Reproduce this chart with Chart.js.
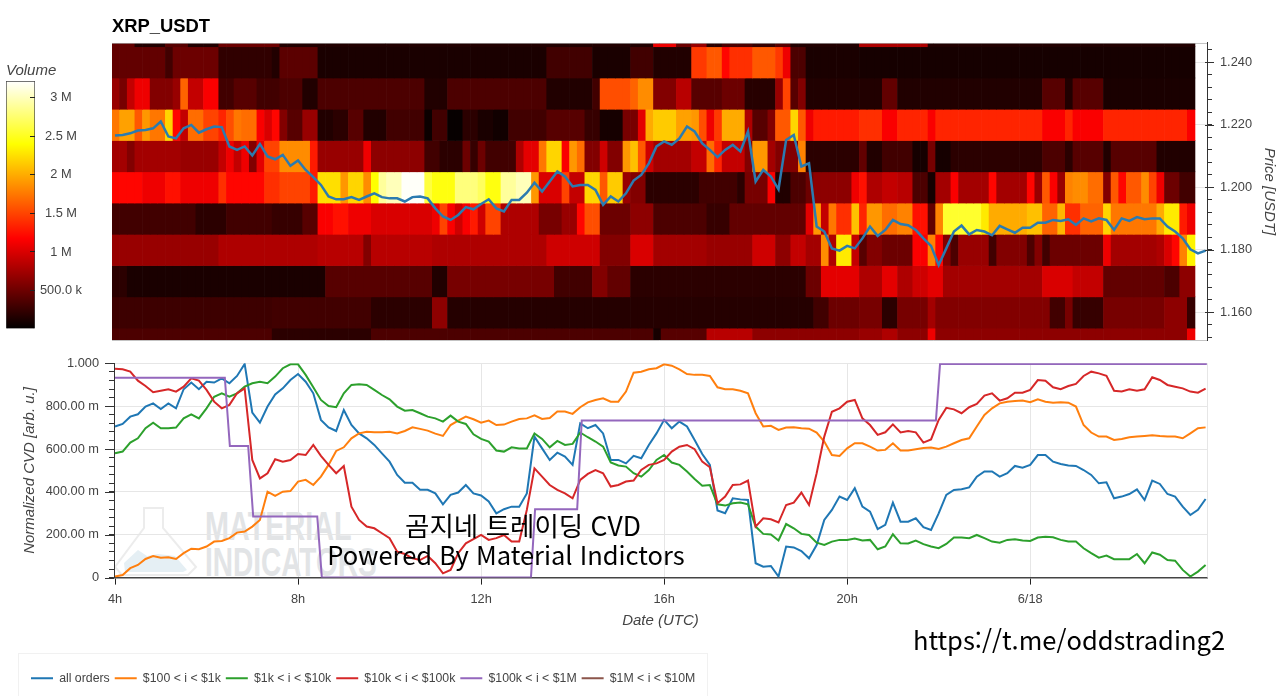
<!DOCTYPE html>
<html lang="ko">
<head>
<meta charset="utf-8">
<title>XRP_USDT</title>
<script src="https://cdn.jsdelivr.net/npm/chart.js@4"></script>
<style>
  html, body { margin: 0; padding: 0; width: 1280px; height: 696px; overflow: hidden; background: #fff; }
  canvas { position: absolute; }
  .legend-box { position: absolute; left: 18px; top: 653px; width: 688px; height: 70px; border: 1px solid #f1f1f1; }
  .mark { position: absolute; left: 205px; font: bold 40px "Liberation Sans", sans-serif; color: #e2e4e6; white-space: nowrap; transform-origin: left center; }
  .note { position: absolute; font-family: "Noto Sans CJK KR", "Noto Sans", sans-serif; color: #000; white-space: nowrap; transform: translateX(-50%); line-height: 1; }
</style>
</head>
<body>
<svg style="position:absolute;left:0;top:0" width="400" height="696">
  <path d="M144 508 H163 V528 L196 567 L188 575 H122 L115 567 L144 528 Z" fill="none" stroke="#ececec" stroke-width="2"/>
  <path d="M124 563 L138 550 L147 556 L158 554 L175 556 L187 570 L183 572 H125 Z" fill="#e5eff4"/>
</svg>
<div class="mark" style="top:504px;transform:scaleX(.72)">MATERIAL</div>
<div class="mark" style="top:540px;transform:scaleX(.7)">INDICATORS</div>
<div class="legend-box"></div>

<canvas id="heatChart" width="1280" height="345" style="left:0;top:0"></canvas>
<canvas id="volumeBar" width="100" height="280" style="left:0;top:55px"></canvas>
<canvas id="cvdChart" width="1280" height="346" style="left:0;top:350px"></canvas>

<div class="note" style="left:523px;top:512px;font-size:26.5px">곰지네 트레이딩 CVD</div>
<div class="note" style="left:506px;top:541px;font-size:25.5px">Powered By Material Indictors</div>
<div class="note" style="left:1069px;top:626px;font-size:25.5px">https://t.me/oddstrading2</div>

<script>
// price levels of the heatmap rows, top to bottom
const priceLevels = [1.25, 1.24, 1.23, 1.22, 1.21, 1.20, 1.19, 1.18, 1.17, 1.16, 1.15];

// volume per row in millions, as [last 10 minute bin, volume] runs
const rowA = [[3,.45],[7,.15],[10,.4],[14,.15],[22,.5],[71,.15],[74,1.1],[76,.5],[78,.7],[80,.2],[84,.35],[87,.25],[89,.4],[98,.15],[107,.8],[142,.15]];
const rowB = [[7,.45],[8,.3],[14,.5],[21,.22],[22,.15],[27,.42],[57,.12],[63,.3],[68,.12],[71,.3],[76,.15],[78,1.45],[80,1.6],[81,1.2],[84,1.4],[87,1.6],[88,1.45],[89,1.1],[91,.35],[98,.12],[142,.1]];
const rowC = [[1,.7],[2,.55],[3,.9],[5,1.1],[8,.6],[9,.7],[10,1.65],[12,.9],[14,1.15],[16,.3],[19,.4],[22,.3],[25,.35],[27,.15],[41,.35],[44,.15],[57,.35],[63,.15],[64,.3],[68,1.55],[69,1.65],[71,1.85],[74,.6],[76,.85],[80,.4],[83,.5],[87,.18],[88,.7],[89,1.5],[90,.4],[91,.6],[101,.15],[103,.45],[122,.15],[125,.4],[126,.15],[130,.4],[142,.12]];
const rowD = [[1,1.75],[3,1.95],[4,1.6],[5,1.9],[7,1.75],[8,2.2],[9,1.2],[10,.9],[12,1.7],[14,1.5],[15,1.35],[16,1.55],[17,1.75],[19,1.7],[20,1.15],[21,1.0],[22,1.2],[23,.6],[25,.4],[27,.7],[29,.15],[31,.2],[33,.4],[36,.15],[41,.3],[42,.05],[44,.3],[46,.03],[48,.2],[50,.12],[52,.08],[57,.3],[62,.4],[64,.25],[67,.1],[69,.55],[70,1.05],[71,2.0],[74,2.15],[76,1.95],[77,1.9],[78,1.55],[79,1.1],[80,1.45],[83,2.0],[84,.8],[86,.4],[87,.6],[89,1.6],[90,2.2],[91,1.6],[92,1.1],[98,1.3],[101,1.4],[103,1.15],[107,1.35],[108,1.15],[122,1.35],[125,1.15],[126,1.35],[130,1.15],[141,1.35],[142,1.15]];
const rowE = [[2,.75],[3,.6],[9,.75],[14,.7],[15,.9],[16,1.1],[17,.9],[18,1.1],[19,.6],[20,1.05],[22,1.5],[26,1.85],[27,1.3],[33,.7],[34,1.1],[41,.65],[43,.3],[46,.2],[47,.5],[48,.25],[49,.5],[53,.3],[54,.8],[56,1.05],[57,1.75],[59,2.2],[60,1.15],[61,1.9],[62,1.7],[64,.6],[65,.95],[67,.6],[68,1.9],[69,2.1],[70,1.6],[71,.95],[76,.75],[78,.9],[79,1.7],[80,1.35],[83,.9],[84,.6],[86,1.9],[87,.75],[90,.6],[91,1.8],[98,.2],[99,.45],[101,.15],[105,.3],[107,.1],[108,.55],[110,.1],[122,.2],[125,.35],[126,.2],[130,.4],[131,.15],[137,.4],[142,.15]];
const rowF = [[4,1.2],[7,1.1],[9,1.25],[14,1.1],[15,1.4],[20,1.2],[22,1.4],[26,1.5],[27,1.3],[30,2.25],[31,1.9],[33,2.2],[34,1.85],[35,2.4],[36,2.9],[38,3.0],[41,3.2],[42,2.6],[45,2.45],[48,2.8],[49,2.7],[51,2.45],[53,2.9],[55,3.0],[56,1.9],[59,1.0],[60,1.5],[62,.9],[64,2.2],[65,1.6],[67,2.15],[68,.7],[70,.6],[77,.2],[82,.3],[83,.2],[86,.55],[87,1.15],[89,.15],[91,.35],[92,.5],[97,.65],[98,1.1],[99,1.25],[101,.8],[103,.9],[105,.85],[107,.35],[108,.1],[110,.75],[111,1.15],[115,.75],[116,1.2],[120,.75],[121,1.2],[122,.7],[123,1.6],[124,1.15],[125,.7],[126,1.8],[128,1.85],[130,1.7],[131,.6],[132,1.6],[133,1.2],[135,1.6],[136,1.85],[137,1.5],[138,1.1],[140,.5],[142,.3]];
const rowG = [[11,.3],[15,.2],[21,.3],[25,.25],[27,.4],[29,1.15],[31,1.25],[34,1.1],[42,1.0],[43,1.1],[44,1.5],[45,1.15],[46,.95],[47,1.15],[48,1.3],[49,.95],[51,1.5],[56,.8],[59,.55],[61,.7],[62,1.2],[64,1.55],[68,.5],[71,.65],[78,.35],[81,.25],[91,.45],[92,1.05],[93,1.9],[94,.9],[95,1.75],[97,1.4],[98,2.1],[99,1.35],[101,1.9],[103,1.7],[105,1.8],[107,1.25],[108,.45],[109,1.8],[114,2.55],[115,2.3],[120,2.0],[122,2.1],[124,1.65],[125,2.05],[127,1.4],[130,1.65],[131,2.2],[137,1.75],[138,2.0],[140,2.3],[141,1.3],[142,1.1]];
const rowH = [[14,.7],[27,.8],[33,.85],[34,.6],[42,.85],[57,.8],[64,.95],[68,.6],[71,1.0],[78,.75],[84,.7],[87,.95],[89,.65],[91,.9],[93,.75],[94,1.85],[95,.8],[97,2.3],[98,.9],[99,.4],[101,.6],[105,.5],[107,1.15],[108,1.8],[109,1.2],[110,.6],[111,.35],[115,.7],[116,.3],[120,.6],[121,.35],[122,.6],[123,.3],[130,.5],[131,1.1],[137,.75],[138,.8],[139,1.0],[140,1.2],[141,1.8],[142,2.35]];
const rowI = [[2,.2],[28,.12],[42,.4],[44,.15],[58,.55],[63,.3],[65,.6],[68,.45],[91,.2],[93,.5],[98,1.05],[101,.8],[103,1.05],[105,.8],[107,.95],[109,1.05],[122,.75],[126,1.0],[130,.9],[138,.45],[140,.35],[142,.65]];
const rowJ = [[21,.28],[34,.3],[42,.2],[44,.65],[92,.17],[94,.3],[98,.5],[101,.55],[103,.2],[107,.55],[108,.75],[123,.6],[125,.3],[126,.55],[130,.25],[138,.55],[141,.65],[142,.25]];
const rowK = [[21,.35],[34,.2],[71,.35],[72,.1],[78,.4],[84,.85],[98,.65],[101,.7],[103,.8],[107,.65],[108,1.1],[141,.65],[142,1.1]];
const volumeRows = [rowA, rowB, rowC, rowD, rowE, rowF, rowG, rowH, rowI, rowJ, rowK];

// last traded price, one value every 10 minutes
const priceSeries = [
  1.2166,1.2168,1.2173,1.2182,1.2184,1.2189,1.2211,1.2163,1.2157,1.2189,1.22,1.2175,1.2186,1.2195,1.2193,1.2131,1.212,1.2131,1.2102,1.2139,1.2099,1.209,1.2104,1.2069,1.2086,1.2056,1.2033,1.2008,1.1971,1.1962,1.1962,1.1969,1.196,1.1971,1.1981,1.1969,1.1965,1.1965,1.1955,1.1969,1.1971,1.1965,
  1.1933,1.1907,1.1896,1.1912,1.1937,1.193,1.1947,1.1962,1.1933,1.1923,1.196,1.196,1.1983,1.2015,1.1987,1.2019,1.2051,1.2035,1.2003,1.2008,1.2008,1.1992,1.1944,1.1971,1.1955,1.1981,1.2022,1.204,1.2077,1.2131,1.2147,1.2136,1.2157,1.2195,1.2179,1.2141,1.212,1.2097,1.212,1.2136,1.2115,1.2179,1.2019,1.2056,1.2035,1.1994,1.2152,1.2168,1.2067,1.2077,1.1875,1.1859,1.1805,1.1798,1.1813,1.1805,
  1.1837,1.1875,1.1845,1.1864,1.1896,1.1883,1.1879,1.1864,1.1837,1.1813,1.1752,1.1805,1.1859,1.1878,1.185,1.1864,1.1859,1.1847,1.1877,1.1866,1.1855,1.1871,1.1871,1.1887,1.1887,1.1896,1.1893,1.1898,1.188,1.1901,1.1891,1.1901,1.1896,1.1864,1.1901,1.1893,1.1905,1.1898,1.1901,1.1901,1.1875,1.1859,1.1837,1.1802,1.1789,1.1798
];

// normalized CVD per order size, one value every 10 minutes
const allOrders = [
  .705,.717,.751,.762,.798,.813,.787,.813,.79,.879,.91,.879,.914,.91,.93,.907,.941,.997,.77,.723,.798,.855,.883,.922,.95,.914,.86,.736,.701,.684,.782,.712,.673,.65,.619,.58,.541,.479,.443,.443,.41,.41,
  .393,.342,.386,.397,.432,.393,.383,.355,.30,.319,.331,.331,.393,.658,.603,.549,.583,.565,.526,.72,.697,.712,.673,.549,.549,.533,.568,.557,.619,.673,.736,.697,.728,.705,.642,.577,.526,.313,.30,.37,.365,.362,.067,.051,.054,.005,.145,.141,.124,.09,.152,.269,.316,.378,.362,.417,
  .331,.308,.226,.246,.35,.261,.261,.277,.235,.222,.30,.386,.409,.412,.421,.471,.495,.495,.471,.487,.521,.513,.526,.572,.572,.541,.53,.523,.521,.502,.479,.44,.445,.37,.378,.39,.412,.362,.453,.437,.39,.378,.331,.292,.316,.367
];
const orders100to1k = [
  .005,.012,.044,.059,.087,.101,.093,.095,.087,.114,.135,.132,.145,.168,.171,.184,.21,.215,.238,.269,.401,.381,.401,.404,.448,.456,.432,.471,.526,.591,.608,.65,.673,.681,.678,.678,.681,.673,.684,.701,.694,.686,
  .672,.661,.712,.733,.751,.739,.723,.733,.712,.714,.728,.74,.743,.757,.74,.745,.775,.775,.764,.795,.818,.829,.837,.821,.821,.868,.956,.961,.972,.977,.995,.989,.972,.95,.946,.946,.941,.888,.879,.879,.872,.86,.767,.705,.708,.689,.70,.701,.697,.695,.677,.635,.572,.568,.603,.627,
  .627,.611,.593,.596,.627,.593,.593,.599,.605,.607,.60,.611,.627,.642,.65,.705,.759,.79,.813,.821,.824,.826,.818,.832,.821,.816,.818,.816,.798,.712,.677,.658,.658,.642,.647,.655,.658,.661,.664,.661,.659,.658,.65,.673,.697,.701
];
const orders1kto10k = [
  .58,.588,.63,.65,.697,.723,.697,.697,.70,.743,.762,.743,.79,.844,.86,.844,.86,.891,.907,.914,.907,.938,.977,.995,.995,.946,.888,.829,.801,.795,.86,.899,.902,.899,.876,.852,.832,.798,.779,.782,.767,.751,
  .743,.728,.756,.728,.717,.669,.647,.635,.593,.588,.608,.603,.603,.673,.647,.608,.638,.619,.624,.677,.655,.635,.611,.537,.523,.518,.487,.471,.502,.549,.572,.537,.526,.495,.46,.429,.432,.342,.336,.347,.35,.342,.238,.204,.201,.173,.25,.23,.204,.199,.163,.152,.168,.176,.176,.182,
  .173,.176,.132,.145,.202,.16,.159,.173,.156,.145,.137,.157,.187,.187,.184,.199,.184,.168,.163,.176,.179,.173,.171,.187,.191,.188,.176,.168,.168,.137,.114,.093,.103,.086,.086,.086,.11,.067,.117,.107,.082,.079,.036,.005,.028,.059
];
const orders10kto100k = [
  .974,.972,.961,.919,.894,.865,.872,.879,.868,.891,.93,.919,.876,.821,.79,.806,.86,.883,.549,.463,.487,.552,.541,.549,.577,.572,.619,.568,.526,.487,.521,.331,.269,.238,.23,.207,.184,.121,.11,.09,.082,.101,
  .067,.02,.036,.114,.16,.179,.199,.176,.184,.199,.168,.168,.316,.51,.471,.432,.409,.393,.37,.456,.484,.502,.487,.425,.432,.448,.453,.502,.526,.533,.549,.588,.611,.619,.599,.541,.515,.347,.378,.432,.435,.453,.238,.277,.272,.257,.339,.35,.397,.339,.487,.658,.774,.79,.821,.829,
  .743,.712,.666,.678,.715,.677,.684,.678,.63,.645,.736,.792,.785,.767,.795,.81,.849,.86,.826,.837,.863,.863,.876,.922,.919,.888,.879,.894,.904,.941,.961,.953,.942,.872,.869,.879,.872,.879,.935,.922,.899,.891,.883,.868,.863,.882
];

// the $100k to $1M curve only changes in steps
const stepHours = [4, 6.40, 6.51, 6.91, 7.02, 8.42, 8.52, 13.09, 13.18, 14.10, 14.20, 21.94, 22.03, 27.86];
const stepValues = [.933, .933, .614, .614, .285, .285, 0, 0, .319, .319, .733, .733, .997, .997];

const seriesNames = ["all orders", "$100 < i < $1k", "$1k < i < $10k", "$10k < i < $100k", "$100k < i < $1M", "$1M < i < $10M"];
const seriesColors = ["#1f77b4", "#ff7f0e", "#2ca02c", "#d62728", "#9467bd", "#8c564b"];

const hourTicks = [4, 8, 12, 16, 20, 24];
const hourLabels = ["4h", "8h", "12h", "16h", "20h", "6/18"];
const volumeMax = 3.22;

const axisFont = { family: "Liberation Sans", size: 12.8 };
const legendFont = { family: "Liberation Sans", size: 12.3 };
const axisTitleFont = { family: "Liberation Sans", size: 15, style: "italic", weight: "normal" };
const textColor = "#444";
const gridColor = "#e6e6e6";

// black -> red -> yellow -> white
const hotStops = [
  [0, [0, 0, 0]],
  [0.365, [255, 0, 0]],
  [0.746, [255, 255, 0]],
  [1, [255, 255, 255]],
];

function hotColor(volume) {
  const t = Math.min(volume / volumeMax, 1);
  for (let i = 1; i < hotStops.length; i++) {
    const [t0, c0] = hotStops[i - 1];
    const [t1, c1] = hotStops[i];
    if (t <= t1) {
      const k = (t - t0) / (t1 - t0);
      return `rgb(${c0.map((c, j) => Math.round(c + (c1[j] - c) * k)).join(",")})`;
    }
  }
  return "#fff";
}

// turn [last bin, volume] runs into one volume per bin
function expandRuns(runs) {
  const out = [];
  let bin = 0;
  runs.forEach(([last, volume]) => {
    for (; bin < last; bin++) out.push(volume);
  });
  return out;
}

function isStep(value, step) {
  const q = value / step;
  return Math.abs(q - Math.round(q)) < 1e-6;
}

// fixed axis size, and no extra room for the first and last tick label
function fixAxis(scale, size) {
  if (scale.isHorizontal()) scale.height = size;
  else scale.width = size;
  scale.paddingTop = 0;
  scale.paddingBottom = 0;
  scale.paddingLeft = 0;
  scale.paddingRight = 0;
}

// tick marks on a y axis get longer where isMajor says so, frame lines are optional
function axisExtras(id, isMajor, inner, outer, frame) {
  return {
    id: id,
    afterDatasetsDraw(chart) {
      const { ctx, chartArea, scales } = chart;
      const scale = scales.y;
      const x = scale.position === "right" ? chartArea.right : chartArea.left;
      const dir = scale.position === "right" ? 1 : -1;
      ctx.save();
      ctx.lineWidth = 1;
      if (frame) frame(ctx, chartArea);
      ctx.strokeStyle = "#333";
      scale.ticks.forEach((tick) => {
        if (!isMajor(tick.value)) return;
        const y = Math.round(scale.getPixelForValue(tick.value)) + 0.5;
        ctx.beginPath();
        ctx.moveTo(x - dir * inner, y);
        ctx.lineTo(x + dir * outer, y);
        ctx.stroke();
      });
      ctx.restore();
    },
  };
}

function drawHeatChart() {
  const xMin = 3.9344;
  const xMax = 27.864;
  const binHours = [];
  for (let n = 0; n < 142; n++) binHours.push(xMin + (n + 0.5) / 6);

  const rowSets = volumeRows.map((runs, r) => ({
    type: "bar",
    grouped: false,
    order: 2,
    data: expandRuns(runs).map((volume, n) => ({
      x: binHours[n],
      y: [priceLevels[r] - 0.005, priceLevels[r] + 0.005],
    })),
    backgroundColor: expandRuns(runs).map(hotColor),
    borderWidth: 0,
    barPercentage: 1,
    categoryPercentage: 1,
  }));

  const priceSet = {
    type: "line",
    order: 1,
    data: priceSeries.map((price, i) => ({ x: 4 + i / 6, y: price })),
    borderColor: "#2b7bb0",
    borderWidth: 2.5,
    pointRadius: 0,
    tension: 0,
  };

  const isMajor = (v) => isStep(v, 0.02);

  return new Chart(document.getElementById("heatChart"), {
    type: "bar",
    data: { datasets: [...rowSets, priceSet] },
    options: {
      responsive: false,
      animation: false,
      events: [],
      layout: { padding: { left: 112, bottom: 5 } },
      plugins: {
        legend: { display: false },
        tooltip: { enabled: false },
        title: {
          display: true,
          text: "XRP_USDT",
          align: "start",
          color: "#000",
          font: { family: "Liberation Sans", size: 18.4, weight: "bold" },
          padding: { top: 16, bottom: 4.9 },
        },
      },
      scales: {
        x: {
          type: "linear",
          display: false,
          offset: false,
          min: xMin,
          max: xMax,
          grid: { offset: false },
          ticks: { stepSize: 4, includeBounds: false },
        },
        y: {
          position: "right",
          min: 1.1512,
          max: 1.2462,
          afterFit(scale) { fixAxis(scale, 73); },
          border: { display: true, color: "#333", width: 1 },
          grid: {
            color: (c) => (isMajor(c.tick.value) ? gridColor : "transparent"),
            tickColor: "#333",
            tickLength: 5,
          },
          ticks: {
            stepSize: 0.004,
            autoSkip: false,
            includeBounds: false,
            padding: 8,
            color: textColor,
            font: axisFont,
            callback: (v) => (isMajor(v) ? v.toFixed(3) : ""),
          },
          title: {
            display: true,
            text: "Price [USDT]",
            color: textColor,
            font: axisTitleFont,
            padding: { top: 2 },
          },
        },
      },
    },
    plugins: [axisExtras("heatTicks", isMajor, 2, 7, (ctx, area) => {
      ctx.strokeStyle = "rgba(170,170,170,0.7)";
      ctx.beginPath();
      ctx.moveTo(area.left, area.top + 0.5);
      ctx.lineTo(area.right, area.top + 0.5);
      ctx.moveTo(area.left, area.bottom + 0.5);
      ctx.lineTo(area.right, area.bottom + 0.5);
      ctx.stroke();
    })],
  });
}

function drawVolumeBar() {
  const fill = (c) => {
    const { ctx, chartArea, scales } = c.chart;
    if (!chartArea) return "#000";
    const gradient = ctx.createLinearGradient(0, scales.y.getPixelForValue(0), 0, scales.y.getPixelForValue(volumeMax));
    hotStops.forEach(([t, rgb]) => gradient.addColorStop(t, `rgb(${rgb.join(",")})`));
    return gradient;
  };

  return new Chart(document.getElementById("volumeBar"), {
    type: "bar",
    data: {
      labels: ["Volume"],
      datasets: [{
        data: [[0, volumeMax]],
        backgroundColor: fill,
        borderColor: "#444",
        borderWidth: 1,
        barPercentage: 1,
        categoryPercentage: 1,
      }],
    },
    options: {
      responsive: false,
      animation: false,
      events: [],
      layout: { padding: { left: 6, bottom: 6 } },
      plugins: {
        legend: { display: false },
        tooltip: { enabled: false },
        title: {
          display: true,
          text: "Volume",
          align: "start",
          color: textColor,
          font: axisTitleFont,
          padding: { top: 7, bottom: 1 },
        },
      },
      scales: {
        x: { display: false },
        y: {
          position: "right",
          min: 0,
          max: volumeMax,
          afterFit(scale) { fixAxis(scale, 65); },
          border: { display: false },
          grid: {
            drawOnChartArea: false,
            tickColor: (c) => (c.tick.value === 0 ? "transparent" : "#222"),
            tickLength: -5,
            z: 1,
          },
          ticks: {
            stepSize: 0.5,
            includeBounds: false,
            padding: 10,
            crossAlign: "center",
            color: textColor,
            font: axisFont,
            callback: (v) => (v === 0 ? "" : v === 0.5 ? "500.0 k" : `${v} M`),
          },
        },
      },
    },
  });
}

function drawCvdChart() {
  const hours = allOrders.map((_, i) => 4 + i / 6);
  const toPoints = (values) => values.map((v, i) => ({ x: hours[i], y: v }));
  const curves = [
    toPoints(allOrders),
    toPoints(orders100to1k),
    toPoints(orders1kto10k),
    toPoints(orders10kto100k),
    stepHours.map((h, i) => ({ x: h, y: stepValues[i] })),
    [],
  ];

  const isMajor = (v) => isStep(v, 0.2);

  return new Chart(document.getElementById("cvdChart"), {
    type: "line",
    data: {
      datasets: curves.map((points, i) => ({
        label: seriesNames[i],
        data: points,
        borderColor: seriesColors[i],
        backgroundColor: seriesColors[i],
        borderWidth: 2,
        pointRadius: 0,
        tension: 0,
        order: 6 - i,
      })),
    },
    options: {
      responsive: false,
      animation: false,
      events: [],
      layout: { padding: { top: 13.3, left: 26, right: 73, bottom: 1.5 } },
      plugins: {
        tooltip: { enabled: false },
        legend: {
          position: "bottom",
          align: "start",
          labels: {
            boxWidth: 22,
            boxHeight: 0,
            padding: 5,
            color: textColor,
            font: legendFont,
            sort: (a, b) => a.datasetIndex - b.datasetIndex,
          },
        },
      },
      scales: {
        x: {
          type: "linear",
          min: 3.978,
          max: 27.864,
          afterFit(scale) { fixAxis(scale, 89.6); },
          border: { color: "#444", width: 1.5 },
          grid: {
            color: (c) => (c.tick.value === 4 ? "transparent" : gridColor),
            tickColor: "#222",
            tickLength: 7,
          },
          ticks: {
            stepSize: 4,
            includeBounds: false,
            maxRotation: 0,
            padding: 7,
            color: textColor,
            font: axisFont,
            callback: (v) => hourLabels[hourTicks.indexOf(v)],
          },
          title: {
            display: true,
            text: "Date (UTC)",
            color: textColor,
            font: axisTitleFont,
            padding: { bottom: 37 },
          },
        },
        y: {
          min: 0,
          max: 1,
          afterFit(scale) { fixAxis(scale, 88); },
          border: { color: "#333", width: 1 },
          grid: {
            color: (c) => (isMajor(c.tick.value) ? gridColor : "transparent"),
            tickColor: "#333",
            tickLength: 5,
          },
          ticks: {
            stepSize: 0.04,
            autoSkip: false,
            padding: 10,
            color: textColor,
            font: axisFont,
            callback: (v) => {
              if (!isMajor(v)) return "";
              if (v === 0) return "0";
              if (v === 1) return "1.000";
              return `${(v * 1000).toFixed(2)} m`;
            },
          },
          title: {
            display: true,
            text: "Normalized CVD [arb. u.]",
            color: textColor,
            font: axisTitleFont,
            padding: { top: -5 },
          },
        },
      },
    },
    plugins: [axisExtras("cvdTicks", isMajor, 0, 9, (ctx, area) => {
      ctx.strokeStyle = gridColor;
      ctx.beginPath();
      ctx.moveTo(area.right + 0.5, area.top);
      ctx.lineTo(area.right + 0.5, area.bottom);
      ctx.stroke();
    })],
  });
}

drawHeatChart();
drawVolumeBar();
drawCvdChart();
</script>
</body>
</html>
